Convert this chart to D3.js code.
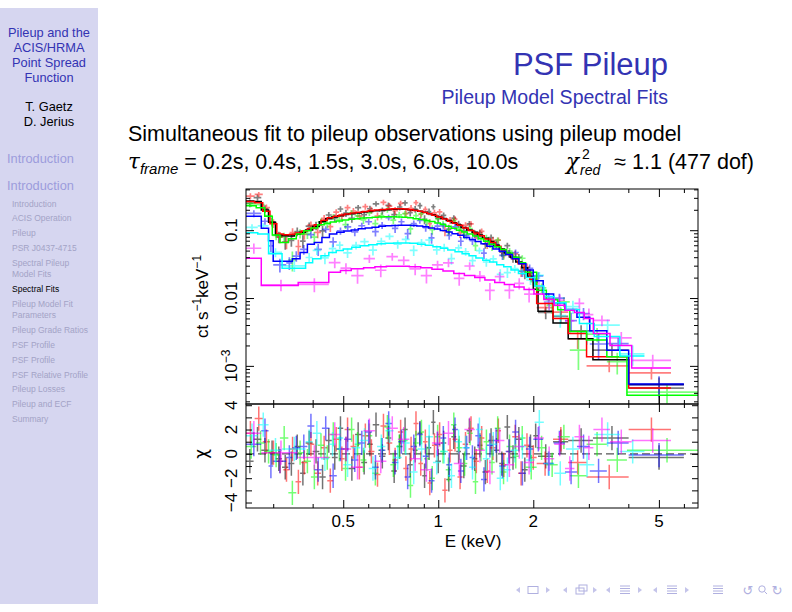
<!DOCTYPE html>
<html>
<head>
<meta charset="utf-8">
<script src="https://cdnjs.cloudflare.com/ajax/libs/d3/7.8.5/d3.min.js"></script>
<style>
body { margin: 0; background: #fff; }
svg { display: block; font-family: "Liberation Sans", Arial, sans-serif; }
</style>
</head>
<body>
<svg id="slide" width="792" height="612"></svg>
<script>
// ---- slide text ----
var sideTitle = ["Pileup and the", "ACIS/HRMA", "Point Spread", "Function"]
var authors = ["T. Gaetz", "D. Jerius"]
var sections = ["Introduction", "Introduction"]
var subsections = [["Introduction"], ["ACIS Operation"], ["Pileup"], ["PSR J0437-4715"],
  ["Spectral Pileup", "Model Fits"], ["Spectral Fits"], ["Pileup Model Fit", "Parameters"],
  ["Pileup Grade Ratios"], ["PSF Profile"], ["PSF Profile"], ["PSF Relative Profile"],
  ["Pileup Losses"], ["Pileup and ECF"], ["Summary"]]
var activeSub = 5

// ---- axis ticks ----
var xMajor = [0.5, 1, 2, 5]
var xMinor = [0.3, 0.4, 0.6, 0.7, 0.8, 0.9, 3, 4, 6]
var yMajor = [0.001, 0.01, 0.1]
var yMinor = [3e-4, 4e-4, 5e-4, 6e-4, 7e-4, 8e-4, 9e-4, 0.002, 0.003, 0.004, 0.005, 0.006, 0.007, 0.008, 0.009,
  0.02, 0.03, 0.04, 0.05, 0.06, 0.07, 0.08, 0.09, 0.2, 0.3, 0.4]
var chiTicks = [-4, -3, -2, -1, 0, 1, 2, 3, 4]
var chiLabels = [-4, -2, 0, 2, 4]

// ---- spectra: bin edges (keV), model (ct/s/keV), residual (chi), relative error ----
var blackE = [0.246,0.260,0.275,0.290,0.305,0.320,0.335,0.350,0.365,0.380,0.400,0.420,0.440,0.460,0.480,0.500,0.520,0.545,0.570,0.595,0.620,0.650,0.680,0.710,0.740,0.770,0.800,0.830,0.860,0.890,0.920,0.950,0.980,1.020,1.060,1.100,1.140,1.180,1.230,1.280,1.330,1.380,1.440,1.500,1.560,1.620,1.690,1.760,1.840,1.920,2.000,2.070,2.310,2.580,3.090,4.010,6.000]
var blackM = [0.27,0.265,0.198,0.131,0.086,0.083,0.082,0.087,0.093,0.101,0.113,0.133,0.148,0.157,0.164,0.170,0.175,0.180,0.185,0.189,0.194,0.198,0.201,0.204,0.205,0.204,0.201,0.197,0.191,0.184,0.177,0.169,0.159,0.149,0.139,0.129,0.120,0.110,0.101,0.093,0.085,0.076,0.068,0.060,0.053,0.046,0.040,0.034,0.028,0.021,0.0135,0.0064,0.0043,0.0025,0.00123,0.00053]
var blackR = [-0.6,1.2,0.3,0.1,-0.4,-1.1,-0.8,0.6,-1.6,0.9,0.2,-1.9,1.1,-0.3,2.1,0.4,-1.2,1.6,-0.7,0.8,2.4,-0.2,1.3,-1.4,0.6,2.0,-0.9,0.3,1.7,-1.8,0.5,2.6,-0.6,0.9,-2.1,1.4,0.2,-1.0,1.9,-0.4,0.7,-1.5,1.1,0.3,-0.8,2.2,-0.3,1.2,-1.3,0.6,1.5,-0.2,1.0,1.1,1.3,-0.3]
var blackS = [0.12,0.12,0.14,0.15,0.18,0.18,0.17,0.16,0.16,0.15,0.15,0.14,0.12,0.12,0.12,0.13,0.12,0.12,0.12,0.12,0.11,0.12,0.12,0.12,0.12,0.12,0.11,0.12,0.12,0.12,0.12,0.12,0.12,0.12,0.12,0.12,0.12,0.12,0.12,0.13,0.12,0.12,0.13,0.12,0.13,0.13,0.13,0.14,0.14,0.15,0.18,0.2,0.25,0.28,0.3,0.38]

var redE = [0.246,0.262,0.278,0.293,0.308,0.323,0.338,0.353,0.368,0.385,0.405,0.425,0.445,0.465,0.485,0.505,0.527,0.550,0.575,0.600,0.628,0.656,0.685,0.715,0.745,0.775,0.805,0.835,0.865,0.895,0.925,0.955,0.990,1.030,1.070,1.110,1.150,1.195,1.245,1.295,1.345,1.400,1.460,1.520,1.580,1.645,1.715,1.790,1.870,1.950,2.050,2.310,2.580,2.950,4.010,5.460]
var redM = [0.265,0.255,0.19,0.125,0.088,0.086,0.087,0.091,0.097,0.106,0.120,0.140,0.153,0.161,0.168,0.174,0.179,0.184,0.189,0.194,0.198,0.202,0.205,0.207,0.207,0.205,0.201,0.196,0.190,0.183,0.175,0.166,0.156,0.146,0.136,0.127,0.118,0.108,0.099,0.091,0.083,0.074,0.066,0.058,0.051,0.044,0.038,0.032,0.026,0.019,0.0083,0.0050,0.0030,0.00136,0.00047]
var redR = [1.7,2.9,1.0,0.1,-0.6,-1.3,0.4,-2.3,-0.7,0.8,-1.6,0.5,-2.2,1.2,-0.4,2.0,0.6,-1.1,1.5,0.2,-1.7,2.3,0.9,-0.5,1.8,-1.2,0.4,2.5,-0.8,1.0,-2.4,0.7,1.6,-3.0,0.3,1.2,-1.9,0.8,2.1,-0.6,1.3,-1.4,0.5,1.9,-0.9,0.2,1.4,-1.6,0.7,-0.3,-0.8,1.2,-0.7,-1.9,2.0]
var redS = [0.12,0.11,0.13,0.15,0.17,0.17,0.16,0.16,0.15,0.15,0.14,0.13,0.12,0.12,0.11,0.12,0.12,0.11,0.12,0.12,0.11,0.12,0.12,0.12,0.11,0.12,0.12,0.12,0.12,0.11,0.12,0.12,0.12,0.11,0.12,0.12,0.12,0.12,0.12,0.12,0.12,0.12,0.13,0.12,0.13,0.13,0.13,0.14,0.14,0.15,0.16,0.2,0.24,0.14,0.34]

var greenE = [0.246,0.265,0.282,0.298,0.315,0.335,0.355,0.375,0.395,0.415,0.435,0.455,0.475,0.497,0.520,0.543,0.567,0.592,0.618,0.646,0.675,0.705,0.736,0.768,0.800,0.833,0.867,0.902,0.938,0.976,1.015,1.056,1.098,1.142,1.188,1.236,1.286,1.338,1.392,1.450,1.510,1.575,1.645,1.720,1.800,1.890,2.050,2.200,2.390,2.610,2.950,3.420,3.960,6.650]
var greenM = [0.23,0.215,0.16,0.085,0.066,0.075,0.088,0.098,0.108,0.120,0.127,0.132,0.137,0.141,0.145,0.148,0.151,0.153,0.155,0.157,0.158,0.158,0.157,0.155,0.152,0.148,0.144,0.139,0.134,0.128,0.121,0.114,0.107,0.100,0.094,0.088,0.082,0.075,0.069,0.062,0.057,0.052,0.046,0.040,0.033,0.024,0.013,0.0095,0.0067,0.0032,0.0024,0.00136,0.00037]
var greenR = [0.6,0.9,0.2,-0.1,1.3,-3.2,0.1,-0.6,-1.9,0.7,-0.3,1.6,0.4,-1.2,2.0,0.8,-0.5,1.5,-1.6,0.3,2.2,-0.9,0.6,1.1,-2.6,0.9,1.8,-0.4,-2.0,1.4,0.2,-1.3,2.4,0.5,-0.8,1.7,-2.3,0.4,1.0,-0.7,2.1,-1.5,0.6,-0.2,1.3,-1.1,0.5,-0.9,1.4,-1.8,0.8,-0.5,0.3]
var greenS = [0.11,0.12,0.13,0.15,0.17,0.16,0.16,0.15,0.14,0.14,0.13,0.12,0.12,0.12,0.12,0.12,0.12,0.12,0.12,0.12,0.12,0.12,0.12,0.12,0.12,0.12,0.12,0.12,0.12,0.12,0.12,0.12,0.12,0.12,0.12,0.12,0.12,0.12,0.12,0.12,0.12,0.12,0.12,0.12,0.13,0.14,0.17,0.2,0.22,0.26,0.28,0.3,0.35]

var blueE = [0.246,0.275,0.290,0.300,0.330,0.345,0.365,0.385,0.405,0.428,0.452,0.477,0.503,0.530,0.558,0.587,0.617,0.648,0.680,0.713,0.747,0.782,0.818,0.855,0.893,0.932,0.973,1.015,1.060,1.106,1.154,1.204,1.256,1.310,1.366,1.425,1.490,1.560,1.635,1.715,1.800,1.895,2.000,2.150,2.320,2.520,2.750,3.020,3.420,4.010,6.000]
var blueM = [0.16,0.107,0.07,0.035,0.035,0.038,0.047,0.062,0.066,0.078,0.088,0.093,0.097,0.101,0.105,0.108,0.111,0.114,0.116,0.117,0.118,0.118,0.117,0.115,0.112,0.108,0.104,0.099,0.094,0.089,0.084,0.078,0.073,0.068,0.063,0.058,0.053,0.049,0.044,0.038,0.032,0.026,0.018,0.0115,0.0085,0.0068,0.0052,0.0033,0.0017,0.00054]
var blueR = [0.8,1.9,-1.0,-0.6,-0.3,0.5,0.6,2.3,-1.3,2.1,-1.8,0.4,1.2,-0.5,0.9,1.8,-1.1,0.3,2.5,-0.7,1.0,-1.9,0.6,1.6,-0.2,-2.2,0.8,1.3,-0.9,2.0,-1.4,0.5,-0.3,1.5,-2.1,0.7,1.1,-1.0,0.2,1.8,-1.6,0.4,1.2,-0.8,0.9,-1.5,0.6,-1.4,0.9,-0.1]
var blueS = [0.13,0.14,0.16,0.2,0.2,0.19,0.18,0.17,0.16,0.15,0.13,0.13,0.13,0.13,0.12,0.13,0.13,0.12,0.13,0.13,0.13,0.13,0.12,0.13,0.13,0.13,0.13,0.13,0.12,0.13,0.13,0.13,0.13,0.13,0.13,0.13,0.13,0.13,0.13,0.13,0.14,0.14,0.15,0.17,0.19,0.21,0.23,0.26,0.28,0.33]

var cyanE = [0.246,0.268,0.290,0.320,0.380,0.400,0.425,0.450,0.475,0.500,0.532,0.566,0.602,0.640,0.680,0.722,0.766,0.812,0.860,0.910,0.962,1.016,1.072,1.130,1.190,1.252,1.316,1.384,1.456,1.532,1.612,1.700,1.795,1.900,2.020,2.160,2.330,2.540,2.800,3.120,3.760,4.500]
var cyanM = [0.092,0.088,0.045,0.0275,0.033,0.038,0.042,0.047,0.050,0.053,0.056,0.059,0.061,0.063,0.064,0.065,0.065,0.064,0.062,0.060,0.057,0.054,0.051,0.048,0.045,0.042,0.039,0.036,0.034,0.031,0.029,0.026,0.023,0.020,0.015,0.0105,0.0085,0.0068,0.0042,0.0027,0.0014]
var cyanR = [1.5,2.4,0.3,0.4,1.0,1.7,-0.4,0.8,1.3,-0.9,0.5,1.1,-1.2,0.6,1.9,-0.3,0.9,-1.5,0.4,1.4,-0.7,0.2,-1.8,1.0,0.5,-1.1,2.0,-0.4,0.8,-2.0,-1.3,0.3,0.6,-0.5,2.6,-0.8,-1.6,0.4,-0.9,1.6,0.2]
var cyanS = [0.13,0.13,0.16,0.2,0.2,0.19,0.18,0.17,0.16,0.14,0.14,0.14,0.14,0.14,0.14,0.14,0.14,0.14,0.14,0.14,0.14,0.14,0.14,0.14,0.14,0.14,0.14,0.14,0.14,0.14,0.14,0.14,0.15,0.15,0.17,0.2,0.22,0.24,0.27,0.3,0.35]

var magentaE = [0.246,0.275,0.360,0.450,0.490,0.530,0.580,0.630,0.685,0.745,0.810,0.880,0.955,1.035,1.120,1.210,1.305,1.405,1.510,1.620,1.740,1.870,2.010,2.160,2.330,2.520,2.700,2.900,3.100,3.500,4.100,5.460]
var magentaM = [0.0385,0.0153,0.017,0.024,0.0255,0.027,0.028,0.029,0.0295,0.0295,0.029,0.028,0.0265,0.025,0.023,0.0215,0.020,0.0185,0.017,0.0158,0.0146,0.0134,0.0115,0.0095,0.0078,0.0066,0.0061,0.0050,0.0030,0.0020,0.00093]
var magentaR = [1.7,0.1,-0.3,1.6,0.4,-1.1,1.9,-0.6,2.1,1.2,-0.4,-1.3,0.9,1.7,-0.8,2.0,0.3,-1.5,1.1,-0.9,0.6,-0.7,1.3,-0.4,0.8,-1.2,1.4,0.5,2.0,1.0,1.1]
var magentaS = [0.24,0.2,0.22,0.24,0.2,0.19,0.19,0.19,0.18,0.18,0.18,0.18,0.18,0.19,0.19,0.19,0.19,0.2,0.2,0.2,0.21,0.21,0.22,0.22,0.24,0.25,0.26,0.27,0.28,0.29,0.27]

var series = [
  {color: "#000000", E: blackE, M: blackM, R: blackR, S: blackS},
  {color: "#ff0000", E: redE, M: redM, R: redR, S: redS},
  {color: "#00ff00", E: greenE, M: greenM, R: greenR, S: greenS},
  {color: "#0000ff", E: blueE, M: blueM, R: blueR, S: blueS},
  {color: "#00ffff", E: cyanE, M: cyanM, R: cyanR, S: cyanS},
  {color: "#ff00ff", E: magentaE, M: magentaM, R: magentaR, S: magentaS}
]

var svg = d3.select("#slide")
var blue = "#3333b3"
var mathFont = "DejaVu Serif"

// ---- sidebar ----
svg.append("rect").attr("x", 0).attr("y", 8).attr("width", 98).attr("height", 596).attr("fill", "#d6d6f0")

svg.selectAll(".sideTitle").data(sideTitle).enter().append("text")
  .attr("x", 49).attr("y", function (d, i) { return 37 + i * 15 })
  .attr("text-anchor", "middle").attr("font-size", 12.8).attr("fill", blue)
  .text(function (d) { return d })

svg.selectAll(".author").data(authors).enter().append("text")
  .attr("x", 49).attr("y", function (d, i) { return 110.5 + i * 15 })
  .attr("text-anchor", "middle").attr("font-size", 12.8).attr("fill", "#000")
  .text(function (d) { return d })

svg.selectAll(".section").data(sections).enter().append("text")
  .attr("x", 7).attr("y", function (d, i) { return 163 + i * 27 })
  .attr("font-size", 12.8).attr("fill", "#9c9cdc")
  .text(function (d) { return d })

var sy = 206.5
subsections.forEach(function (lines, i) {
  lines.forEach(function (t, j) {
    svg.append("text").attr("x", 12).attr("y", sy + j * 11.5)
      .attr("font-size", 8.5).attr("fill", i === activeSub ? "#000" : "#a3a3c6")
      .text(t)
  })
  sy += (lines.length - 1) * 11.5 + 14.8
})

// ---- frame title and body ----
svg.append("text").attr("x", 668).attr("y", 75).attr("text-anchor", "end")
  .attr("font-size", 31).attr("fill", blue).text("PSF Pileup")
svg.append("text").attr("x", 668).attr("y", 104).attr("text-anchor", "end")
  .attr("font-size", 19.5).attr("fill", blue).text("Pileup Model Spectral Fits")

svg.append("text").attr("x", 128).attr("y", 141).attr("font-size", 21.5)
  .text("Simultaneous fit to pileup observations using pileup model")

var l2 = svg.append("text").attr("x", 128).attr("y", 169).attr("font-size", 21.5)
l2.append("tspan").attr("font-style", "italic").attr("font-family", mathFont).text("τ")
l2.append("tspan").attr("font-style", "italic").attr("font-size", 15).attr("dy", 5).text("frame")
l2.append("tspan").attr("dy", -5).text(" = 0.2s, 0.4s, 1.5s, 3.0s, 6.0s, 10.0s")

svg.append("text").attr("x", 566).attr("y", 169).attr("font-size", 21.5).attr("font-style", "italic")
  .attr("font-family", mathFont).text("χ")
svg.append("text").attr("x", 582).attr("y", 159).attr("font-size", 14).text("2")
svg.append("text").attr("x", 580).attr("y", 175).attr("font-size", 14).attr("font-style", "italic").text("red")
svg.append("text").attr("x", 754).attr("y", 169).attr("text-anchor", "end").attr("font-size", 21.5)
  .text("≈ 1.1 (477 dof)")

// ---- plot ----
var pLeft = 246, pRight = 698, pTop = 189, pMid = 404, pBottom = 508

var x = d3.scaleLog().domain([0.246, 6.65]).range([pLeft, pRight])
var yU = d3.scaleLog().domain([2.74e-4, 0.405]).range([pMid, pTop])
var yL = d3.scaleLinear().domain([-4.45, 4.1]).range([pBottom, pMid])

var defs = svg.append("defs")
defs.append("clipPath").attr("id", "clipU").append("rect")
  .attr("x", pLeft).attr("y", pTop).attr("width", pRight - pLeft).attr("height", pMid - pTop)
defs.append("clipPath").attr("id", "clipL").append("rect")
  .attr("x", pLeft).attr("y", pMid).attr("width", pRight - pLeft).attr("height", pBottom - pMid)

var gU = svg.append("g").attr("clip-path", "url(#clipU)")
var gL = svg.append("g").attr("clip-path", "url(#clipL)")

// zero line of the residual panel
gL.append("line").attr("x1", pLeft).attr("x2", pRight)
  .attr("y1", yL(0)).attr("y2", yL(0))
  .attr("stroke", "#555").attr("stroke-width", 1.4).attr("stroke-dasharray", "8,4")

function binsOf(s) {
  return s.M.map(function (m, i) {
    var lo = s.E[i], hi = s.E[i + 1], sig = s.S[i] * m
    return {lo: lo, hi: hi, mid: (lo + hi) / 2, m: m, sig: sig, d: m + s.R[i] * sig, r: s.R[i]}
  })
}

var step = d3.line()
  .x(function (p) { return x(p[0]) })
  .y(function (p) { return yU(p[1]) })
  .curve(d3.curveStepAfter)

series.forEach(function (s) {
  var bins = binsOf(s)
  gU.selectAll(null).data(bins).enter().append("path")
    .attr("d", function (b) {
      return "M" + x(b.lo) + "," + yU(b.d) + "H" + x(b.hi) +
        "M" + x(b.mid) + "," + yU(Math.max(b.d - b.sig, 1e-5)) + "V" + yU(b.d + b.sig)
    })
    .attr("stroke", s.color).attr("stroke-opacity", 0.5).attr("stroke-width", 1.7).attr("fill", "none")

  gL.selectAll(null).data(bins).enter().append("path")
    .attr("d", function (b) {
      return "M" + x(b.lo) + "," + yL(b.r) + "H" + x(b.hi) +
        "M" + x(b.mid) + "," + yL(b.r - 1) + "V" + yL(b.r + 1)
    })
    .attr("stroke", s.color).attr("stroke-opacity", 0.55).attr("stroke-width", 1.5).attr("fill", "none")
})

series.forEach(function (s) {
  var bins = binsOf(s)
  var pts = bins.map(function (b) { return [b.lo, b.m] })
  pts.push([bins[bins.length - 1].hi, bins[bins.length - 1].m])
  gU.append("path").attr("d", step(pts))
    .attr("stroke", s.color).attr("stroke-width", 1.5).attr("fill", "none")
})

// frames
svg.append("rect").attr("x", pLeft).attr("y", pTop).attr("width", pRight - pLeft).attr("height", pMid - pTop)
  .attr("fill", "none").attr("stroke", "#000").attr("stroke-width", 1)
svg.append("rect").attr("x", pLeft).attr("y", pMid).attr("width", pRight - pLeft).attr("height", pBottom - pMid)
  .attr("fill", "none").attr("stroke", "#000").attr("stroke-width", 1)

// inward ticks
function ticks(axis, tx, ty, vals, len) {
  var g = svg.append("g").attr("transform", "translate(" + tx + "," + ty + ")")
    .call(axis.tickValues(vals).tickSize(-len).tickFormat(""))
  g.select(".domain").remove()
  g.selectAll("line").attr("stroke", "#000").attr("stroke-width", 1)
}
;[pTop, pMid].forEach(function (ty) {
  ticks(d3.axisTop(x), 0, ty, xMajor, 8)
  ticks(d3.axisTop(x), 0, ty, xMinor, 4)
})
;[pMid, pBottom].forEach(function (ty) {
  ticks(d3.axisBottom(x), 0, ty, xMajor, 8)
  ticks(d3.axisBottom(x), 0, ty, xMinor, 4)
})
ticks(d3.axisLeft(yU), pLeft, 0, yMajor, 8)
ticks(d3.axisLeft(yU), pLeft, 0, yMinor, 4)
ticks(d3.axisRight(yU), pRight, 0, yMajor, 8)
ticks(d3.axisRight(yU), pRight, 0, yMinor, 4)
ticks(d3.axisLeft(yL), pLeft, 0, chiTicks, 6)
ticks(d3.axisRight(yL), pRight, 0, chiTicks, 6)

// tick labels
svg.selectAll(".xl").data(xMajor).enter().append("text")
  .attr("x", function (d) { return x(d) }).attr("y", 527)
  .attr("text-anchor", "middle").attr("font-size", 17)
  .text(function (d) { return d })

svg.selectAll(".yl").data(yMajor).enter().append("text")
  .attr("transform", function (d) { return "translate(237," + yU(d) + ") rotate(-90)" })
  .attr("text-anchor", "middle").attr("font-size", 17)
  .each(function (d) {
    var t = d3.select(this)
    if (d < 0.005) {
      t.append("tspan").text("10")
      t.append("tspan").attr("dy", -7).attr("font-size", 12).text("−" + Math.round(-Math.log10(d)))
    } else {
      t.text(d)
    }
  })

svg.selectAll(".cl").data(chiLabels).enter().append("text")
  .attr("transform", function (d) { return "translate(237," + yL(d) + ") rotate(-90)" })
  .attr("text-anchor", "middle").attr("font-size", 17)
  .text(function (d) { return d < 0 ? "−" + (-d) : d })

// axis titles
var yt = svg.append("text").attr("transform", "translate(208," + (pTop + pMid) / 2 + ") rotate(-90)")
  .attr("text-anchor", "middle").attr("font-size", 17)
yt.append("tspan").text("ct s")
yt.append("tspan").attr("dy", -7).attr("font-size", 12).text("−1")
yt.append("tspan").attr("dy", 7).text("keV")
yt.append("tspan").attr("dy", -7).attr("font-size", 12).text("−1")

svg.append("text").attr("transform", "translate(207," + yL(0) + ") rotate(-90)")
  .attr("text-anchor", "middle").attr("font-size", 17).attr("font-family", "DejaVu Sans").text("χ")

svg.append("text").attr("x", 473).attr("y", 547).attr("text-anchor", "middle")
  .attr("font-size", 17).text("E (keV)")

// ---- navigation symbols ----
var nav = svg.append("g").attr("stroke", "#b0b0e0").attr("fill", "none").attr("stroke-width", 1)
var ny = 590
;[518, 565, 608, 655].forEach(function (cx) {
  nav.append("path").attr("d", "M" + (cx + 2) + "," + (ny - 3) + "L" + (cx - 2) + "," + ny + "L" + (cx + 2) + "," + (ny + 3) + "Z")
    .attr("fill", "#c4c4ea").attr("stroke", "none")
})
;[548, 595, 640, 687].forEach(function (cx) {
  nav.append("path").attr("d", "M" + (cx - 2) + "," + (ny - 3) + "L" + (cx + 2) + "," + ny + "L" + (cx - 2) + "," + (ny + 3) + "Z")
    .attr("fill", "#c4c4ea").attr("stroke", "none")
})
nav.append("rect").attr("x", 528).attr("y", ny - 3.5).attr("width", 10).attr("height", 7)
nav.append("rect").attr("x", 576).attr("y", ny - 2).attr("width", 8).attr("height", 6)
nav.append("rect").attr("x", 579).attr("y", ny - 5).attr("width", 8).attr("height", 6)
;[625, 672, 718].forEach(function (cx) {
  ;[-4, -1.5, 1, 3.5].forEach(function (dy) {
    nav.append("line").attr("x1", cx - 5).attr("x2", cx + 5).attr("y1", ny + dy).attr("y2", ny + dy)
  })
})
nav.append("text").attr("x", 748).attr("y", ny + 5).attr("text-anchor", "middle").attr("font-size", 13)
  .attr("font-family", "DejaVu Sans").attr("fill", "#b0b0e0").attr("stroke", "none").text("↺")
nav.append("circle").attr("cx", 762).attr("cy", ny - 1).attr("r", 3.2)
nav.append("line").attr("x1", 764.5).attr("y1", ny + 1.5).attr("x2", 767).attr("y2", ny + 4)
nav.append("text").attr("x", 777).attr("y", ny + 5).attr("text-anchor", "middle").attr("font-size", 13)
  .attr("font-family", "DejaVu Sans").attr("fill", "#b0b0e0").attr("stroke", "none").text("↻")
</script>
</body>
</html>
